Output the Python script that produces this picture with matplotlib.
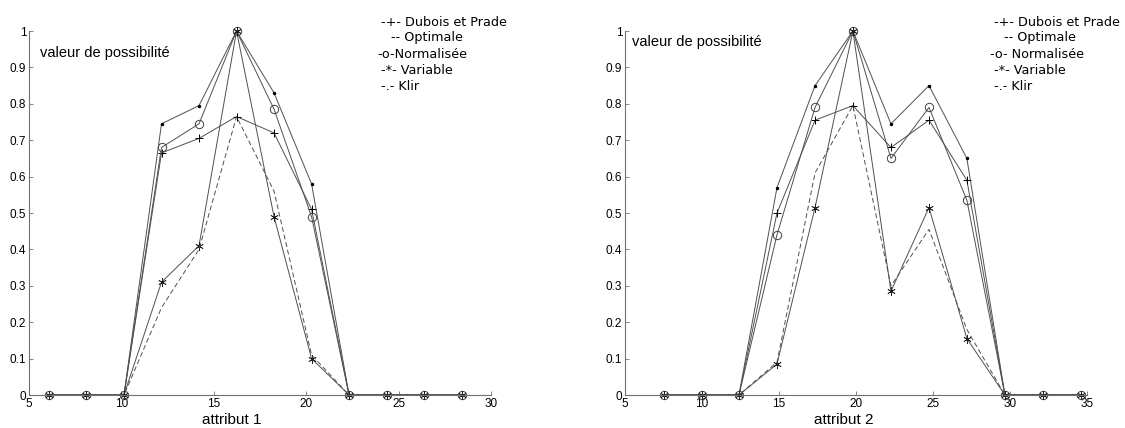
import matplotlib.pyplot as plt
import numpy as np

# attribut 1
x1 = [6.08, 8.11, 10.14, 12.17, 14.2, 16.23, 18.26, 20.29, 22.32, 24.35, 26.38, 28.41]
dubois1 = [0, 0, 0, 0.665, 0.705, 0.765, 0.72, 0.51, 0, 0, 0, 0]
optimale1 = [0, 0, 0, 0.24, 0.40, 0.765, 0.56, 0.11, 0, 0, 0, 0]
normalisee1 = [0, 0, 0, 0.68, 0.745, 1.0, 0.785, 0.49, 0, 0, 0, 0]
variable1 = [0, 0, 0, 0.31, 0.41, 1.0, 0.49, 0.10, 0, 0, 0, 0]
klir1 = [0, 0, 0, 0.745, 0.795, 1.0, 0.83, 0.58, 0, 0, 0, 0]

# attribut 2
x2 = [7.53, 10.0, 12.4, 14.87, 17.34, 19.8, 22.27, 24.74, 27.2, 29.67, 32.14, 34.6]
dubois2 = [0, 0, 0, 0.50, 0.755, 0.795, 0.68, 0.755, 0.59, 0, 0, 0]
optimale2 = [0, 0, 0, 0.09, 0.61, 0.795, 0.30, 0.455, 0.18, 0, 0, 0]
normalisee2 = [0, 0, 0, 0.44, 0.79, 1.0, 0.65, 0.79, 0.535, 0, 0, 0]
variable2 = [0, 0, 0, 0.085, 0.515, 1.0, 0.285, 0.515, 0.155, 0, 0, 0]
klir2 = [0, 0, 0, 0.57, 0.85, 1.0, 0.745, 0.85, 0.65, 0, 0, 0]

legend1 = ["-+- Dubois et Prade", "-- Optimale", "-o-Normalisée",
           "-*- Variable", "-.- Klir"]
legend2 = ["-+- Dubois et Prade", "-- Optimale", "-o- Normalisée",
           "-*- Variable", "-.- Klir"]
legend_dx = [4, 14, 0, 4, 4]

fig = plt.figure(figsize=(11.25, 4.28), dpi=100)
axes = [fig.add_axes([29 / 1125, 33 / 428, 462 / 1125, 364 / 428]),
        fig.add_axes([625 / 1125, 33 / 428, 462 / 1125, 364 / 428])]

data = [(x1, dubois1, optimale1, normalisee1, variable1, klir1, 30),
        (x2, dubois2, optimale2, normalisee2, variable2, klir2, 35)]

lc = '#505050'
for ax, (x, d, o, n, v, k, xmax) in zip(axes, data):
    ax.plot(x, k, '-', color=lc, lw=0.7, marker='.', ms=3, mec='black', mfc='black')
    ax.plot(x, d, '-', color=lc, lw=0.7, marker='+', ms=6, mec='black', mew=0.7)
    ax.plot(x, n, '-', color=lc, lw=0.7, marker='o', ms=6, mec='#404040', mfc='none', mew=0.7)
    ax.plot(x, v, '-', color=lc, lw=0.7, marker=(6, 2, 0), ms=6, mec='#202020', mew=0.55)
    ax.plot(x, o, '--', color=lc, lw=0.7, dashes=(5, 3))

    ax.set_xlim(5, xmax)
    ax.set_ylim(0, 1)
    ax.set_xticks(np.arange(5, xmax + 1, 5))
    ax.set_yticks(np.arange(0, 1.01, 0.1))
    ax.set_yticklabels(['0'] + ['%.1f' % t for t in np.arange(0.1, 0.95, 0.1)] + ['1'])
    for s in ['top', 'right']:
        ax.spines[s].set_visible(False)
    for s in ['left', 'bottom']:
        ax.spines[s].set_color('#707070')
        ax.spines[s].set_linewidth(0.8)
    ax.tick_params(direction='in', length=3, width=0.6, color='#707070',
                   labelsize=8.5, pad=2)
    for t in ax.get_xticklabels() + ax.get_yticklabels():
        t.set_family('Liberation Sans')
    for line in ax.lines:
        line.set_clip_on(False)

fig.text(232 / 1125, 1 - 420 / 428, "attribut 1", family='Liberation Sans',
         fontsize=11, ha='center', va='center')
fig.text(844 / 1125, 1 - 420 / 428, "attribut 2", family='Liberation Sans',
         fontsize=11, ha='center', va='center')

fig.text(40 / 1125, 1 - 53 / 428, "valeur de possibilité", family='Liberation Sans',
         fontsize=10.5, va='center')
fig.text(632 / 1125, 1 - 42 / 428, "valeur de possibilité", family='Liberation Sans',
         fontsize=10.5, va='center')

for x0, lines in [(377, legend1), (990, legend2)]:
    for i, s in enumerate(lines):
        fig.text((x0 + legend_dx[i]) / 1125, 1 - (22 + 16 * i) / 428, s,
                 family='DejaVu Sans', fontsize=9.2, va='center')

fig.savefig('out.png', dpi=100)
